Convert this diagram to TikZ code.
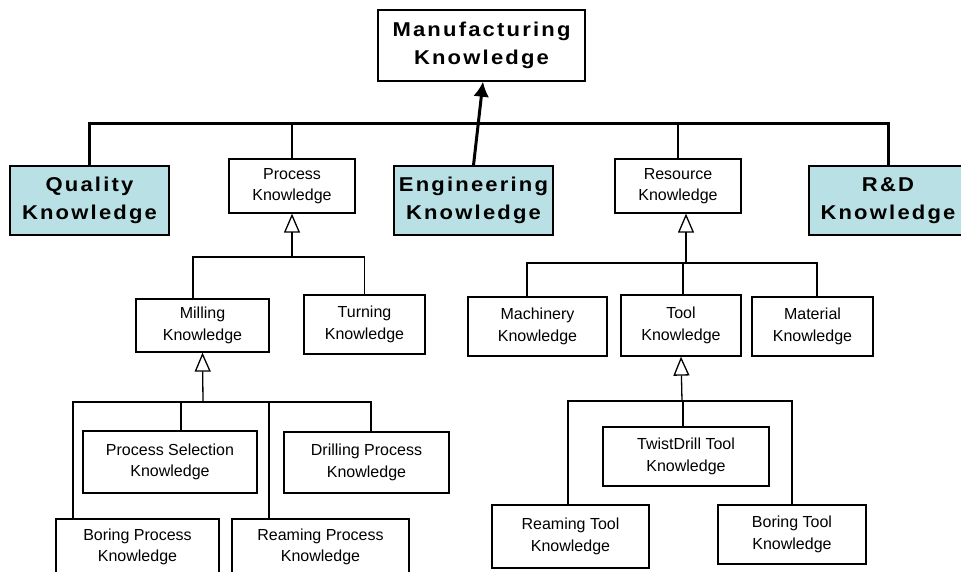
\documentclass[tikz,border=0pt]{standalone}
\usepackage{fontspec}
\setmainfont{Liberation Sans}
\newfontfamily\headfont{Liberation Sans}[LetterSpace=11,FakeStretch=1.1]
\usetikzlibrary{arrows.meta}
\definecolor{domainfill}{RGB}{185,224,228}
\begin{document}
\begin{tikzpicture}[x=1pt,y=-1pt,
  headbox/.style={draw,line width=1.4pt,fill=domainfill,inner sep=0pt,align=center,
    font=\headfont\bfseries\fontsize{20}{28}\selectfont},
  topbox/.style={headbox,fill=white},
  classbox/.style={draw,line width=1.3pt,fill=white,inner sep=0pt,align=center,
    font=\fontsize{16}{21.5}\selectfont},
  conn/.style={line width=1.3pt},
  mainconn/.style={line width=3pt},
  gen/.style={line width=1.3pt,-{Triangle[open,length=19pt,width=16pt,line width=1.3pt,fill=white]}},
]
\useasboundingbox (0,0) rectangle (961,572);
\clip (0,0) rectangle (961,572);

% top level
\node[topbox,minimum width=207pt,minimum height=71pt] (man) at (481.5,45.5) {Manufacturing\\Knowledge};

\node[headbox,minimum width=159pt,minimum height=69pt] (qual) at (89.5,200.5) {Quality\\Knowledge};
\node[classbox,minimum width=126pt,minimum height=54pt] (proc) at (292,186) {Process\\Knowledge};
\node[headbox,minimum width=159pt,minimum height=69pt] (eng) at (473.5,200.5) {Engineering\\Knowledge};
\node[classbox,minimum width=126pt,minimum height=54pt] (res) at (678,186) {Resource\\Knowledge};
\node[headbox,minimum width=158pt,minimum height=69pt] (rd) at (888,200.5) {R\&D\\Knowledge};

% process branch
\node[classbox,minimum width=133pt,minimum height=53pt] (mill) at (202.5,325.5) {Milling\\Knowledge};
\node[classbox,minimum width=121pt,minimum height=59pt] (turn) at (364.5,324.5) {Turning\\Knowledge};
\node[classbox,minimum width=174pt,minimum height=62pt] (psel) at (170,462) {Process Selection\\Knowledge};
\node[classbox,minimum width=165pt,minimum height=61pt] (drill) at (366.5,462.5) {Drilling Process\\Knowledge};
\node[classbox,minimum width=163pt,minimum height=56pt] (bore) at (137.5,547) {Boring Process\\Knowledge};
\node[classbox,minimum width=177pt,minimum height=56pt] (ream) at (320.5,547) {Reaming Process\\Knowledge};

% resource branch
\node[classbox,minimum width=139pt,minimum height=59pt] (mach) at (537.5,326.5) {Machinery\\Knowledge};
\node[classbox,minimum width=120pt,minimum height=61pt] (tool) at (681,325.5) {Tool\\Knowledge};
\node[classbox,minimum width=121pt,minimum height=59pt] (mat) at (812.5,326.5) {Material\\Knowledge};
\node[classbox,minimum width=166pt,minimum height=59pt] (twist) at (686,456.5) {TwistDrill Tool\\Knowledge};
\node[classbox,minimum width=157pt,minimum height=63pt] (rtool) at (570.5,536.5) {Reaming Tool\\Knowledge};
\node[classbox,minimum width=148pt,minimum height=59pt] (btool) at (792,534.5) {Boring Tool\\Knowledge};

% junction points of the trees
\coordinate (hub) at (483,124);
\coordinate (pj) at (292,257);
\coordinate (mj) at (203,402);
\coordinate (rj) at (686,263);
\coordinate (tj) at (682,401);

% top level bus
\draw[mainconn] (qual.north) |- (hub) -| (rd.north);
\draw[conn] (proc.north) -- (proc.north |- hub);
\draw[conn] (res.north) -- (res.north |- hub);
\draw[mainconn,-{Latex[length=15pt,width=16pt]}] (eng.north) -- ([xshift=1.5pt]man.south);

% process generalisation
\coordinate (millTop) at ([xshift=-9.5pt]mill.north);
\draw[conn] (millTop) |- (pj) -| (turn.north);
\draw[gen] (pj) -- (proc.south);

% milling generalisation
\coordinate (boreTop) at ([xshift=-64.5pt]bore.north);
\coordinate (pselTop) at ([xshift=11pt]psel.north);
\coordinate (reamTop) at ([xshift=-51.5pt]ream.north);
\coordinate (drillTop) at ([xshift=4.5pt]drill.north);
\draw[conn] (boreTop) |- (mj) -| (drillTop);
\draw[conn] (pselTop) -- (pselTop |- mj);
\draw[conn] (reamTop) -- (reamTop |- mj);
\draw[gen] (mj) -- (mill.south);

% resource generalisation
\coordinate (machTop) at ([xshift=-10.5pt]mach.north);
\coordinate (toolTop) at ([xshift=2pt]tool.north);
\coordinate (matTop) at ([xshift=4.5pt]mat.north);
\draw[conn] (machTop) |- (rj) -| (matTop);
\draw[conn] (toolTop) -- (toolTop |- rj);
\draw[gen] (rj) -- (rj |- res.south);

% tool generalisation
\coordinate (rtoolTop) at ([xshift=-2.5pt]rtool.north);
\coordinate (twistTop) at ([xshift=-3pt]twist.north);
\draw[conn] (rtoolTop) |- (tj) -| (btool.north);
\draw[conn] (twistTop) -- (twistTop |- tj);
\draw[gen] (tj) -- (tool.south);
\end{tikzpicture}
\end{document}
